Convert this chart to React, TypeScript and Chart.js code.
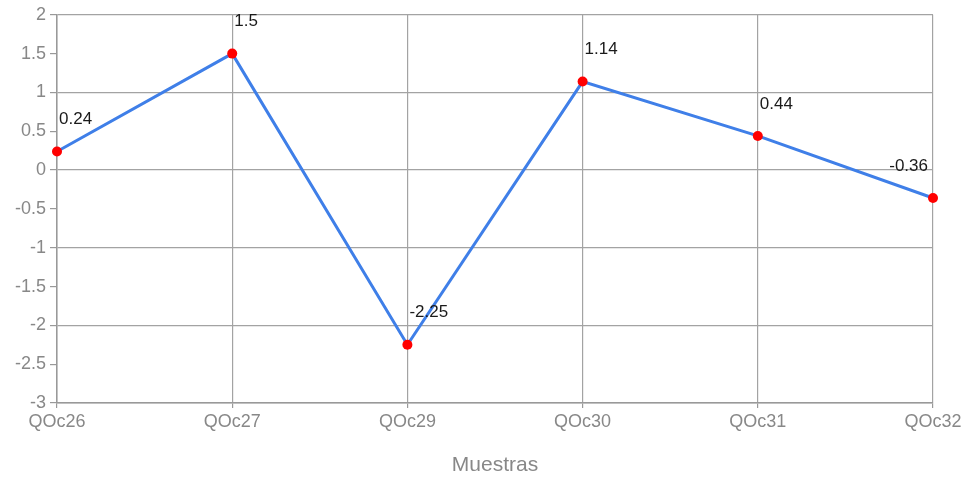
import React, { useEffect, useRef } from "react";
import { Chart, registerables } from "chart.js";

Chart.register(...registerables);

const categories = ["QOc26", "QOc27", "QOc29", "QOc30", "QOc31", "QOc32"];
const values = [0.24, 1.5, -2.25, 1.14, 0.44, -0.36];
const valueLabels = ["0.24", "1.5", "-2.25", "1.14", "0.44", "-0.36"];
const yMin = -3;
const yMax = 2;
const yStep = 0.5;
const xTitle = "Muestras";

const FONT = "'Liberation Sans', Arial, Helvetica, sans-serif";

const dataLabelPlugin = {
  id: "dataLabels",
  afterDatasetsDraw(chart: any) {
    const ctx = chart.ctx;
    const meta = chart.getDatasetMeta(0);
    const area = chart.chartArea;
    ctx.save();
    ctx.font = `17px ${FONT}`;
    ctx.fillStyle = "#1a1a1a";
    ctx.textBaseline = "middle";
    meta.data.forEach((pt: any, i: number) => {
      const text = valueLabels[i];
      const w = ctx.measureText(text).width;
      let x = pt.x + 2;
      ctx.textAlign = "left";
      if (x + w > area.right) {
        ctx.textAlign = "right";
        x = pt.x - 5;
      }
      ctx.fillText(text, x, pt.y - 32);
    });
    ctx.restore();
  },
};

export default function App() {
  const canvasRef = useRef<HTMLCanvasElement | null>(null);

  useEffect(() => {
    if (!canvasRef.current) return;
    const chart = new Chart(canvasRef.current, {
      type: "line",
      data: {
        labels: categories,
        datasets: [
          {
            data: values,
            borderColor: "#3f7fe8",
            borderWidth: 3,
            pointBackgroundColor: "#ff0000",
            pointBorderWidth: 0,
            pointRadius: 5,
            tension: 0,
            fill: false,
          },
        ],
      },
      options: {
        animation: false,
        responsive: false,
        maintainAspectRatio: false,
        layout: { padding: { left: 0, right: 38, top: 12, bottom: 0 } },
        plugins: {
          legend: { display: false },
          tooltip: { enabled: false },
        },
        scales: {
          x: {
            offset: false,
            border: { color: "#999", width: 1.5 },
            grid: {
              color: "#a3a3a3",
              lineWidth: 1.2,
              tickLength: 5,
              tickColor: "#999",
            },
            ticks: {
              color: "#888",
              font: { family: FONT, size: 18 },
              padding: 3,
              maxRotation: 0,
              autoSkip: false,
            },
            title: {
              display: true,
              text: xTitle,
              color: "#888",
              font: { family: FONT, size: 21 },
              padding: { top: 12, bottom: 0 },
            },
            afterFit(scale: any) {
              scale.height = 75;
            },
          },
          y: {
            min: yMin,
            max: yMax,
            border: { color: "#999", width: 1.5 },
            grid: {
              color: (c: any) =>
                c.tick && Number.isInteger(c.tick.value) ? "#a3a3a3" : "rgba(0,0,0,0)",
              lineWidth: 1.2,
              tickLength: 7,
              tickColor: "#999",
            },
            ticks: {
              stepSize: yStep,
              color: "#888",
              font: { family: FONT, size: 18 },
              padding: 4,
              callback: (v: any) => String(v),
            },
            afterFit(scale: any) {
              scale.width = 57;
            },
          },
        },
      },
      plugins: [dataLabelPlugin],
    });
    return () => chart.destroy();
  }, []);

  return (
    <div style={{ position: "fixed", left: 0, top: 0, width: 971, height: 478, background: "#fff" }}>
      <canvas ref={canvasRef} width={971} height={478} style={{ width: 971, height: 478 }} />
    </div>
  );
}
